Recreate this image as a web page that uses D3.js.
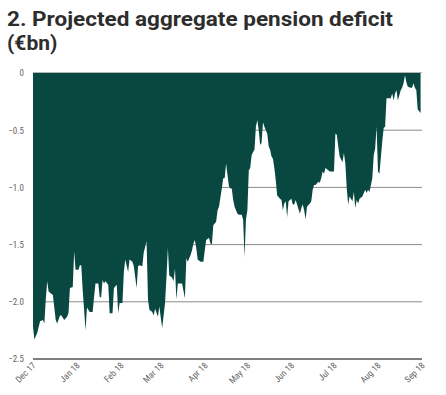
<!DOCTYPE html>
<html>
<head>
<meta charset="utf-8">
<script src="https://cdn.jsdelivr.net/npm/d3@7"></script>
<style>
  body { margin: 0; background: #fff; }
  svg { display: block; }
</style>
</head>
<body>
<div id="chart"></div>
<script>
const title = ['2. Projected aggregate pension deficit', '(€bn)'];
const yTicks = [0, -0.5, -1.0, -1.5, -2.0, -2.5];
const xStart = '2017-12-01';
const xEnd = '2018-09-01';

const dates = [
  '2017-12-01','2017-12-02','2017-12-04','2017-12-06','2017-12-08','2017-12-09','2017-12-10','2017-12-11',
  '2017-12-12','2017-12-13','2017-12-15','2017-12-17','2017-12-18','2017-12-20','2017-12-21','2017-12-22',
  '2017-12-23','2017-12-25','2017-12-26','2017-12-27','2017-12-29','2017-12-30','2017-12-31','2018-01-02',
  '2018-01-03','2018-01-04','2018-01-05','2018-01-06','2018-01-07','2018-01-08','2018-01-10','2018-01-12',
  '2018-01-13','2018-01-14','2018-01-16','2018-01-17','2018-01-18','2018-01-19','2018-01-20','2018-01-21',
  '2018-01-23','2018-01-24','2018-01-26','2018-01-27','2018-01-29','2018-01-30','2018-01-31','2018-02-02',
  '2018-02-03','2018-02-04','2018-02-06','2018-02-07','2018-02-09','2018-02-10','2018-02-12','2018-02-13',
  '2018-02-14','2018-02-16','2018-02-17','2018-02-19','2018-02-20','2018-02-21','2018-02-23','2018-02-24',
  '2018-02-25','2018-02-27','2018-02-28','2018-03-01','2018-03-02','2018-03-04','2018-03-05','2018-03-06',
  '2018-03-07','2018-03-09','2018-03-10','2018-03-11','2018-03-12','2018-03-13','2018-03-16','2018-03-18',
  '2018-03-19','2018-03-20','2018-03-22','2018-03-23','2018-03-24','2018-03-25','2018-03-26','2018-03-27',
  '2018-03-29','2018-03-31','2018-04-01','2018-04-02','2018-04-04','2018-04-05','2018-04-06','2018-04-07',
  '2018-04-09','2018-04-10','2018-04-11','2018-04-13','2018-04-14','2018-04-15','2018-04-16','2018-04-18',
  '2018-04-19','2018-04-20','2018-04-21','2018-04-22','2018-04-24','2018-04-25','2018-04-27','2018-04-28',
  '2018-04-29','2018-04-30','2018-05-01','2018-05-02','2018-05-03','2018-05-04','2018-05-05','2018-05-06',
  '2018-05-07','2018-05-08','2018-05-09','2018-05-10','2018-05-11','2018-05-12','2018-05-13','2018-05-15',
  '2018-05-16','2018-05-17','2018-05-18','2018-05-19','2018-05-20','2018-05-21','2018-05-22','2018-05-24',
  '2018-05-25','2018-05-26','2018-05-27','2018-05-28','2018-05-29','2018-05-30','2018-06-01','2018-06-02',
  '2018-06-03','2018-06-04','2018-06-05','2018-06-07','2018-06-08','2018-06-09','2018-06-10','2018-06-11',
  '2018-06-12','2018-06-14','2018-06-15','2018-06-16','2018-06-17','2018-06-18','2018-06-20','2018-06-21',
  '2018-06-22','2018-06-23','2018-06-24','2018-06-25','2018-06-27','2018-06-28','2018-06-29','2018-07-01',
  '2018-07-02','2018-07-03','2018-07-04','2018-07-05','2018-07-07','2018-07-08','2018-07-09','2018-07-10',
  '2018-07-11','2018-07-12','2018-07-14','2018-07-15','2018-07-16','2018-07-17','2018-07-18','2018-07-19',
  '2018-07-21','2018-07-22','2018-07-23','2018-07-24','2018-07-25','2018-07-26','2018-07-28','2018-07-29',
  '2018-07-30','2018-07-31','2018-08-01','2018-08-02','2018-08-04','2018-08-05','2018-08-06','2018-08-07',
  '2018-08-08','2018-08-10','2018-08-11','2018-08-12','2018-08-13','2018-08-14','2018-08-15','2018-08-17',
  '2018-08-18','2018-08-19','2018-08-20','2018-08-21','2018-08-22','2018-08-24','2018-08-25','2018-08-26',
  '2018-08-27','2018-08-28','2018-08-29','2018-08-31'
];

const deficit = [
  -2.22,-2.33,-2.27,-2.17,-2.16,-2.19,-1.98,-1.82,
  -1.91,-1.92,-1.94,-2.16,-2.19,-2.12,-2.12,-2.14,
  -2.16,-2.13,-2.10,-1.88,-1.87,-1.56,-1.72,-1.72,
  -1.68,-1.68,-1.90,-2.07,-2.25,-2.05,-2.09,-2.09,
  -1.96,-1.84,-1.84,-1.96,-1.96,-1.81,-1.84,-1.82,
  -1.85,-2.10,-2.10,-1.88,-1.85,-2.10,-2.01,-2.01,
  -1.74,-1.63,-1.74,-1.63,-1.65,-1.69,-1.88,-1.69,
  -1.68,-1.69,-1.57,-1.47,-1.98,-2.07,-2.09,-2.12,
  -2.06,-2.13,-2.04,-2.14,-2.23,-2.01,-1.79,-1.53,
  -1.77,-1.79,-1.82,-1.71,-1.98,-1.84,-1.84,-1.97,
  -1.62,-1.65,-1.59,-1.55,-1.49,-1.46,-1.53,-1.63,
  -1.65,-1.65,-1.55,-1.46,-1.44,-1.49,-1.50,-1.33,
  -1.30,-1.20,-1.17,-1.01,-0.92,-0.92,-0.79,-0.99,
  -1.01,-1.01,-1.11,-1.17,-1.23,-1.24,-1.24,-1.28,
  -1.61,-1.28,-1.20,-0.85,-0.83,-0.72,-0.69,-0.67,
  -0.47,-0.41,-0.50,-0.63,-0.61,-0.43,-0.47,-0.53,
  -0.64,-0.67,-0.73,-0.75,-0.83,-0.94,-1.07,-1.10,
  -1.11,-1.20,-1.14,-1.12,-1.26,-1.12,-1.10,-1.15,
  -1.15,-1.11,-1.15,-1.23,-1.18,-1.15,-1.20,-1.28,
  -1.17,-1.14,-1.12,-1.02,-0.98,-0.98,-0.95,-0.96,
  -0.92,-0.86,-0.88,-0.83,-0.85,-0.86,-0.86,-0.86,
  -0.53,-0.54,-0.64,-0.73,-0.78,-0.70,-0.79,-1.01,
  -1.15,-1.08,-1.12,-1.04,-1.18,-1.11,-1.14,-1.10,
  -1.08,-1.05,-1.02,-1.05,-1.02,-1.04,-0.92,-0.72,
  -0.66,-0.47,-0.86,-0.88,-0.60,-0.48,-0.47,-0.22,
  -0.22,-0.22,-0.18,-0.24,-0.18,-0.15,-0.24,-0.15,
  -0.13,-0.09,-0.02,-0.08,-0.12,-0.13,-0.13,-0.09,
  -0.13,-0.15,-0.32,-0.35
];

const width = 446;
const height = 395;
const margin = {top: 73, right: 24, bottom: 36, left: 33};
const areaColor = '#094840';
const labelFont = "'Roboto Condensed', 'Liberation Sans Narrow', 'DejaVu Sans Condensed', sans-serif";

const parseDate = d3.timeParse('%Y-%m-%d');
const data = dates.map((d, i) => ({date: parseDate(d), value: deficit[i]}));

const svg = d3.select('#chart').append('svg')
  .attr('width', width)
  .attr('height', height);

// title, two lines
svg.append('g')
  .selectAll('text')
  .data(title)
  .join('text')
    .attr('x', 7)
    .attr('y', (d, i) => 26 + i * 24)
    .attr('font-family', 'Roboto, sans-serif')
    .attr('font-weight', 700)
    .attr('font-size', 21)
    .attr('fill', '#2d2d2d')
    .attr('textLength', (d, i) => i === 0 ? 386 : null)
    .attr('lengthAdjust', 'spacingAndGlyphs')
    .text(d => d);

const x = d3.scaleTime()
  .domain([parseDate(xStart), parseDate(xEnd)])
  .range([margin.left, width - margin.right]);

const y = d3.scaleLinear()
  .domain([-2.5, 0])
  .range([height - margin.bottom, margin.top]);

// gridlines sit behind the area
svg.append('g')
  .selectAll('line')
  .data(yTicks.filter(t => t !== 0 && t !== -2.5))
  .join('line')
    .attr('x1', margin.left)
    .attr('x2', width - margin.right)
    .attr('y1', d => y(d))
    .attr('y2', d => y(d))
    .attr('stroke', '#8a8a8a')
    .attr('stroke-width', 1);

const area = d3.area()
  .x(d => x(d.date))
  .y0(y(0))
  .y1(d => y(d.value));

svg.append('path')
  .datum(data)
  .attr('fill', areaColor)
  .attr('d', area);

// zero line at the top and the axis line at the bottom
svg.append('line')
  .attr('x1', margin.left).attr('x2', width - margin.right)
  .attr('y1', y(0) - 0.5).attr('y2', y(0) - 0.5)
  .attr('stroke', '#b5b5b5');

svg.append('line')
  .attr('x1', margin.left).attr('x2', width - margin.right)
  .attr('y1', y(-2.5)).attr('y2', y(-2.5))
  .attr('stroke', '#555')
  .attr('stroke-width', 1.5);

const yAxis = g => g
  .attr('transform', `translate(${margin.left - 6},0)`)
  .call(d3.axisLeft(y).tickValues(yTicks).tickSize(0).tickFormat(d => d === 0 ? '0' : d3.format('.1f')(d)))
  .call(g => g.select('.domain').remove())
  .call(g => g.selectAll('text')
    .attr('font-family', labelFont)
    .attr('font-size', 9)
    .attr('fill', '#666'));

const xAxis = g => g
  .attr('transform', `translate(0,${height - margin.bottom})`)
  .call(d3.axisBottom(x).ticks(d3.timeMonth.every(1)).tickSize(0).tickFormat(d3.timeFormat('%b %y')))
  .call(g => g.select('.domain').remove())
  .call(g => g.selectAll('text')
    .attr('font-family', labelFont)
    .attr('font-size', 9)
    .attr('fill', '#666')
    .attr('text-anchor', 'end')
    .attr('dy', null)
    .attr('y', 0)
    .attr('transform', 'translate(3,7) rotate(-45)'));

svg.append('g').call(yAxis);
svg.append('g').call(xAxis);
</script>
</body>
</html>
